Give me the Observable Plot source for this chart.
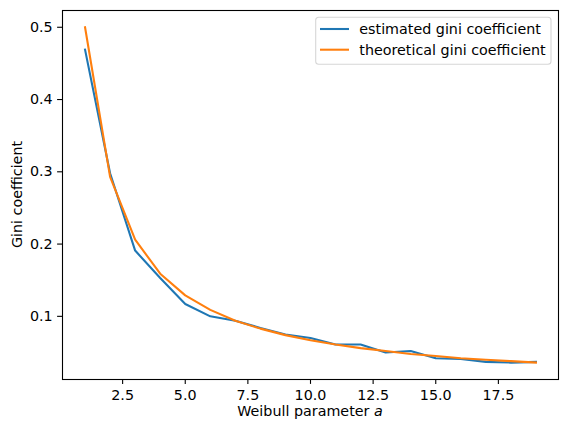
<!DOCTYPE html>
<html>
<head>
<meta charset="utf-8">
<script src="https://cdn.jsdelivr.net/npm/d3@7"></script>
<script src="https://cdn.jsdelivr.net/npm/@observablehq/plot@0.6"></script>
<style>
  html, body { margin: 0; padding: 0; background: white; }
  #chart { width: 567px; height: 433px; }
</style>
</head>
<body>
<div id="chart"></div>
<script>
// Weibull shape parameter a and the Gini coefficient for each value
const shapeParams = [1, 2, 3, 4, 5, 6, 7, 8, 9, 10, 11, 12, 13, 14, 15, 16, 17, 18, 19];
const estimatedGini = [0.469, 0.298, 0.191, 0.153, 0.117, 0.100, 0.094, 0.084, 0.075, 0.070,
                       0.061, 0.061, 0.050, 0.052, 0.042, 0.041, 0.037, 0.036, 0.037];
const theoreticalGini = [0.500, 0.293, 0.206, 0.159, 0.129, 0.109, 0.094, 0.083, 0.074, 0.067,
                         0.061, 0.056, 0.052, 0.048, 0.045, 0.042, 0.040, 0.038, 0.036];
const seriesNames = ["estimated gini coefficient", "theoretical gini coefficient"];
const seriesColors = ["#1f77b4", "#ff7f0e"];
const xTicks = [2.5, 5.0, 7.5, 10.0, 12.5, 15.0, 17.5];
const yTicks = [0.1, 0.2, 0.3, 0.4, 0.5];
const xLabel = "Weibull parameter ";
const xLabelVar = "a";
const yLabel = "Gini coefficient";

const estimatedRows = shapeParams.map((a, i) => ({a, g: estimatedGini[i]}));
const theoreticalRows = shapeParams.map((a, i) => ({a, g: theoreticalGini[i]}));

const W = 567, H = 433;
const M = {top: 10, right: 9, bottom: 54, left: 62};
const font = "DejaVu Sans";
const fontSize = 14.3;
const lineW = 2.08;

const svg = Plot.plot({
  width: W,
  height: H,
  marginTop: M.top,
  marginRight: M.right,
  marginBottom: M.bottom,
  marginLeft: M.left,
  style: {fontFamily: font, fontSize: fontSize + "px", color: "black", background: "white", overflow: "visible"},
  x: {domain: [0.1, 19.9]},
  y: {domain: [0.0126, 0.5232]},
  marks: [
    Plot.axisX({ticks: xTicks, tickFormat: d3.format(".1f"), tickSize: 4.9, tickPadding: 5.6, strokeWidth: 1.1, label: null}),
    Plot.axisY({ticks: yTicks, tickFormat: d3.format(".1f"), tickSize: 4.9, tickPadding: 4.9, strokeWidth: 1.1, label: null}),
    Plot.lineY(estimatedRows, {x: "a", y: "g", stroke: seriesColors[0], strokeWidth: lineW, strokeLinecap: "square"}),
    Plot.lineY(theoreticalRows, {x: "a", y: "g", stroke: seriesColors[1], strokeWidth: lineW, strokeLinecap: "square"}),
    Plot.frame({stroke: "black", strokeWidth: 1.1})
  ]
});
document.getElementById("chart").appendChild(svg);

const root = d3.select(svg);
const frameLeft = M.left, frameRight = W - M.right, frameTop = M.top, frameBottom = H - M.bottom;

// axis titles
const xt = root.append("text")
  .attr("x", (frameLeft + frameRight) / 2)
  .attr("y", frameBottom + 36.5)
  .attr("text-anchor", "middle")
  .attr("font-family", font)
  .attr("font-size", fontSize)
  .attr("fill", "black");
xt.append("tspan").text(xLabel);
xt.append("tspan").attr("font-style", "italic").text(xLabelVar);

root.append("text")
  .attr("transform", `translate(22,${(frameTop + frameBottom) / 2}) rotate(-90)`)
  .attr("text-anchor", "middle")
  .attr("font-family", font)
  .attr("font-size", fontSize)
  .attr("fill", "black")
  .text(yLabel);

// legend in the upper-right corner of the frame
const legend = root.append("g").attr("transform", `translate(${frameRight - 242.3},${frameTop + 7.3})`);
legend.append("rect")
  .attr("x", 0).attr("y", 0)
  .attr("width", 235.3).attr("height", 47)
  .attr("rx", 3).attr("ry", 3)
  .attr("fill", "white").attr("fill-opacity", 0.8)
  .attr("stroke", "#d6d6d6").attr("stroke-width", 1.1);
seriesNames.forEach((name, i) => {
  const cy = 11.7 + i * 20.7;
  legend.append("line")
    .attr("x1", 4.3).attr("x2", 33.3)
    .attr("y1", cy).attr("y2", cy)
    .attr("stroke", seriesColors[i]).attr("stroke-width", lineW);
  legend.append("text")
    .attr("x", 43.6).attr("y", cy)
    .attr("dy", "0.35em")
    .attr("text-anchor", "start")
    .attr("font-family", font)
    .attr("font-size", fontSize)
    .attr("fill", "black")
    .text(name);
});
</script>
</body>
</html>
